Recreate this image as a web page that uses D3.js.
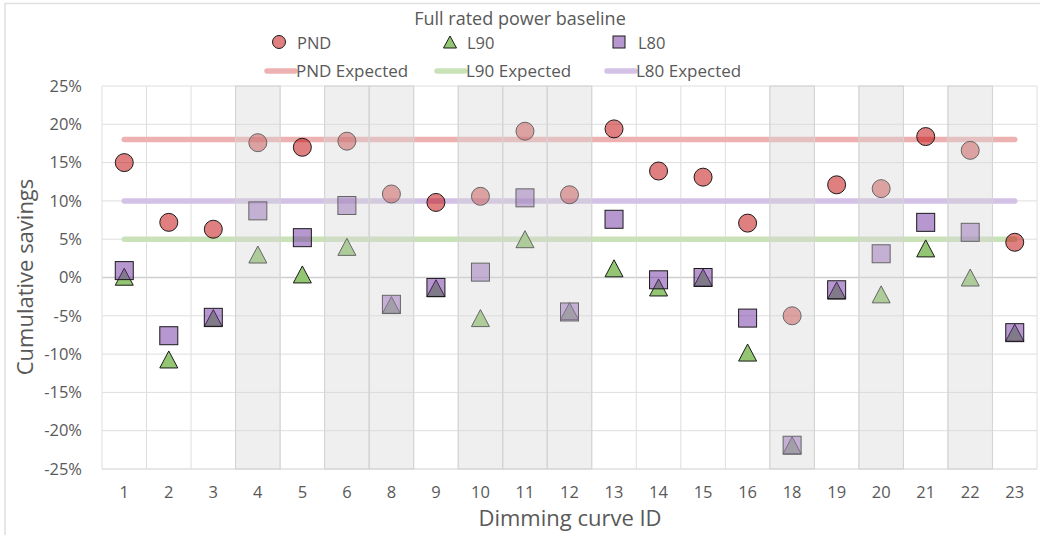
<!DOCTYPE html>
<html>
<head>
<meta charset="utf-8">
<script src="https://cdn.jsdelivr.net/npm/d3@7"></script>
<style>
    body { margin: 0; background: #fff; }
    text { font-family: "Open Sans", sans-serif; fill: #595959; }
</style>
</head>
<body>
<svg id="chart" width="1040" height="535"></svg>
<script>
//Data (values in %)
let categories = ["1", "2", "3", "4", "5", "6", "8", "9", "10", "11", "12", "13", "14", "15", "16", "18", "19", "20", "21", "22", "23"];
let pndValues = [15.0, 7.2, 6.3, 17.6, 17.0, 17.8, 10.9, 9.8, 10.6, 19.1, 10.8, 19.4, 13.9, 13.1, 7.1, -5.0, 12.1, 11.6, 18.4, 16.6, 4.6];
let l90Values = [0.1, -10.7, -5.3, 3.0, 0.4, 4.0, -3.6, -1.4, -5.3, 5.0, -4.4, 1.2, -1.3, 0.0, -9.8, -21.9, -1.7, -2.2, 3.8, 0.0, -7.2];
let l80Values = [0.9, -7.6, -5.2, 8.7, 5.2, 9.4, -3.5, -1.3, 0.7, 10.4, -4.5, 7.6, -0.3, 0.0, -5.3, -21.9, -1.6, 3.1, 7.2, 5.9, -7.2];
let expectedValues = [18, 5, 10]; //PND, L90, L80
let shadedCategories = ["4", "6", "8", "10", "11", "12", "18", "20", "22"];
let yTicks = [-25, -20, -15, -10, -5, 0, 5, 10, 15, 20, 25];

let svg = d3.select("#chart");

//Chart border
svg.append("path")
    .attr("d", "M5,540V3.5H1045")
    .attr("fill", "none")
    .attr("stroke", "#e0e0e0")
    .attr("stroke-width", 1.5);

//Scales
let x = d3.scaleBand().domain(categories).range([102, 1037]).padding(0);
let y = d3.scaleLinear().domain([-25, 25]).range([469, 86]);

//Grid lines
let grid = svg.append("g");
grid.selectAll(".hgrid")
    .data(yTicks)
    .enter().append("line")
    .attr("x1", 102).attr("x2", 1037)
    .attr("y1", d => y(d)).attr("y2", d => y(d))
    .attr("stroke", d => d === 0 || d === -25 ? "#cfcfcf" : "#dedede")
    .attr("stroke-width", d => d === 0 ? 1.6 : 1);
grid.selectAll(".vgrid")
    .data(categories.concat(["end"]))
    .enter().append("line")
    .attr("x1", (d, i) => i < categories.length ? x(d) : x(categories[i - 1]) + x.bandwidth())
    .attr("x2", (d, i) => i < categories.length ? x(d) : x(categories[i - 1]) + x.bandwidth())
    .attr("y1", y(25)).attr("y2", y(-25))
    .attr("stroke", "#dedede");

//Y axis labels
let yAxis = d3.axisLeft(y).tickValues(yTicks).tickSize(0).tickPadding(0).tickFormat(d => d + "%");
svg.append("g")
    .attr("transform", "translate(82,0)")
    .call(yAxis)
    .call(g => g.select(".domain").remove())
    .selectAll("text")
    .attr("font-size", "16.5px")
    .attr("font-family", "Open Sans")
    .attr("fill", "#595959");

//X axis labels
let xAxis = d3.axisBottom(x).tickSize(0).tickPadding(0);
svg.append("g")
    .attr("transform", "translate(0,486)")
    .call(xAxis)
    .call(g => g.select(".domain").remove())
    .selectAll("text")
    .attr("font-size", "16.5px")
    .attr("font-family", "Open Sans")
    .attr("fill", "#595959");

//Expected lines
let expectedColors = ["#eeb1b1", "#c9e2b8", "#d3c1e6"];
let expectedOrder = [0, 2, 1];
svg.append("g")
    .selectAll("line")
    .data(expectedOrder)
    .enter().append("line")
    .attr("x1", x(categories[0]) + x.bandwidth() / 2)
    .attr("x2", x(categories[categories.length - 1]) + x.bandwidth() / 2)
    .attr("y1", i => y(expectedValues[i]))
    .attr("y2", i => y(expectedValues[i]))
    .attr("stroke", i => expectedColors[i])
    .attr("stroke-width", 5.5)
    .attr("stroke-linecap", "round");

//Marker shapes
let trianglePath = (w, h) => "M0," + (-h / 2) + "L" + (w / 2) + "," + (h / 2) + "L" + (-w / 2) + "," + (h / 2) + "Z";
let cx = d => x(d) + x.bandwidth() / 2;

//L90 triangles
svg.append("g")
    .selectAll("path")
    .data(l90Values)
    .enter().append("path")
    .attr("d", trianglePath(18, 17))
    .attr("transform", (d, i) => "translate(" + cx(categories[i]) + "," + y(d) + ")")
    .attr("fill", "#93c572")
    .attr("stroke", "#1a1a1a")
    .attr("stroke-width", 1);

//L80 squares
svg.append("g")
    .selectAll("rect")
    .data(l80Values)
    .enter().append("rect")
    .attr("x", (d, i) => cx(categories[i]) - 9)
    .attr("y", d => y(d) - 9)
    .attr("width", 18).attr("height", 18)
    .attr("fill", "rgba(112,48,160,0.5)")
    .attr("stroke", "#1a1a1a")
    .attr("stroke-width", 1);

//PND circles
svg.append("g")
    .selectAll("circle")
    .data(pndValues)
    .enter().append("circle")
    .attr("cx", (d, i) => cx(categories[i]))
    .attr("cy", d => y(d))
    .attr("r", 9)
    .attr("fill", "rgba(192,0,0,0.5)")
    .attr("stroke", "#1a1a1a")
    .attr("stroke-width", 1);

//Shaded columns drawn over the markers
svg.append("g")
    .selectAll("rect")
    .data(shadedCategories)
    .enter().append("rect")
    .attr("x", d => x(d))
    .attr("y", y(25))
    .attr("width", x.bandwidth())
    .attr("height", y(-25) - y(25))
    .attr("fill", "rgba(215,215,215,0.4)")
    .attr("stroke", "#d4d4d4")
    .attr("stroke-width", 1);

//Title
svg.append("text")
    .attr("x", 520).attr("y", 25)
    .attr("text-anchor", "middle")
    .attr("font-size", "18px")
    .text("Full rated power baseline");

//Legend row 1: markers
let legend = svg.append("g");
legend.append("circle")
    .attr("cx", 279).attr("cy", 42).attr("r", 6.5)
    .attr("fill", "rgba(192,0,0,0.5)").attr("stroke", "#1a1a1a");
legend.append("path")
    .attr("d", trianglePath(13, 12))
    .attr("transform", "translate(450,42)")
    .attr("fill", "#93c572").attr("stroke", "#1a1a1a");
legend.append("rect")
    .attr("x", 613).attr("y", 36).attr("width", 12).attr("height", 12)
    .attr("fill", "rgba(112,48,160,0.5)").attr("stroke", "#1a1a1a");
let markerNames = [["PND", 297], ["L90", 467], ["L80", 638]];
legend.selectAll(".mname")
    .data(markerNames)
    .enter().append("text")
    .attr("x", d => d[1]).attr("y", 48.5)
    .attr("font-size", "16.5px")
    .text(d => d[0]);

//Legend row 2: expected lines
let lineLegend = [["PND Expected", 267, 0], ["L90 Expected", 437, 1], ["L80 Expected", 607, 2]];
legend.selectAll(".lline")
    .data(lineLegend)
    .enter().append("line")
    .attr("x1", d => d[1]).attr("x2", d => d[1] + 28)
    .attr("y1", 71).attr("y2", 71)
    .attr("stroke", d => expectedColors[d[2]])
    .attr("stroke-width", 5.5)
    .attr("stroke-linecap", "round");
legend.selectAll(".lname")
    .data(lineLegend)
    .enter().append("text")
    .attr("x", d => d[1] + 29).attr("y", 77)
    .attr("font-size", "17px")
    .text(d => d[0]);

//Axis titles
svg.append("text")
    .attr("x", 570).attr("y", 526)
    .attr("text-anchor", "middle")
    .attr("font-size", "22px")
    .text("Dimming curve ID");
svg.append("text")
    .attr("transform", "translate(33,277) rotate(-90)")
    .attr("text-anchor", "middle")
    .attr("font-size", "22px")
    .text("Cumulative savings");
</script>
</body>
</html>
